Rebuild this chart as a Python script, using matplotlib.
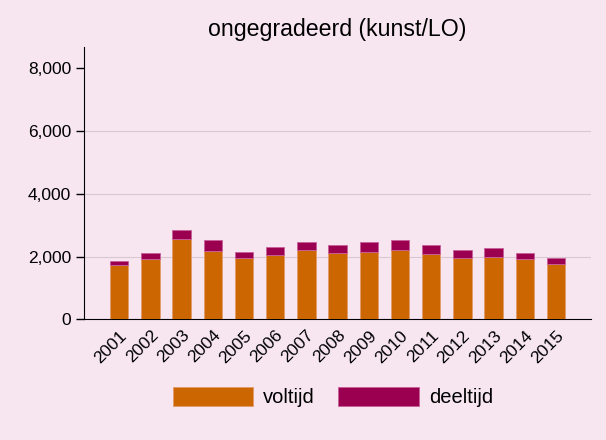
import matplotlib
matplotlib.use('Agg')
import matplotlib.pyplot as plt
from matplotlib.ticker import FuncFormatter

# Aantallen per jaar (ongegradeerd, kunst/LO)
years = ['2001', '2002', '2003', '2004', '2005', '2006', '2007', '2008',
         '2009', '2010', '2011', '2012', '2013', '2014', '2015']
voltijd = [1720, 1920, 2560, 2190, 1945, 2060, 2210, 2125,
           2155, 2210, 2090, 1955, 2000, 1920, 1755]
deeltijd = [150, 180, 290, 340, 210, 255, 245, 235,
            310, 330, 290, 255, 265, 185, 190]

bg = '#F7E6F0'
plt.rcParams['font.family'] = ['Liberation Sans', 'DejaVu Sans']

fig = plt.figure(figsize=(6.06, 4.40), dpi=100, facecolor=bg)
ax = fig.add_axes([0.139, 0.274, 0.836, 0.62], facecolor=bg)

x = range(len(years))
ax.bar(x, voltijd, width=0.59, color='#CC6600', edgecolor='#E39A6A',
       linewidth=0.6, label='voltijd', zorder=3)
ax.bar(x, deeltijd, width=0.59, bottom=voltijd, color='#9B0050',
       edgecolor='#C8609A', linewidth=0.6, label='deeltijd', zorder=3)

ax.set_xlim(-1.12, len(years) - 1 + 1.12)
ax.set_ylim(0, 8680)
ax.set_yticks([0, 2000, 4000, 6000, 8000])
ax.yaxis.set_major_formatter(FuncFormatter(lambda v, p: f'{int(v):,}'))
ax.set_xticks(list(x))
ax.set_xticklabels(years, rotation=45, ha='right', rotation_mode='anchor')

ax.grid(axis='y', color='#D9C8D2', linewidth=0.8, zorder=0)
# geen rasterlijn bij 8,000
ax.yaxis.get_gridlines()[-1].set_visible(False)
ax.spines['top'].set_visible(False)
ax.spines['right'].set_visible(False)
ax.tick_params(axis='y', labelsize=12.5, length=6, width=1)
ax.tick_params(axis='x', labelsize=12.5, length=0, pad=6)

ax.set_title('ongegradeerd (kunst/LO)', fontsize=16.7, pad=8)

fig.legend(loc='center', bbox_to_anchor=(0.549, 0.098), ncol=2, frameon=False,
           fontsize=14.5, handlelength=4.0, handleheight=1.1, columnspacing=1.15,
           handletextpad=0.5)

fig.savefig('out.png', dpi=100, facecolor=bg)
